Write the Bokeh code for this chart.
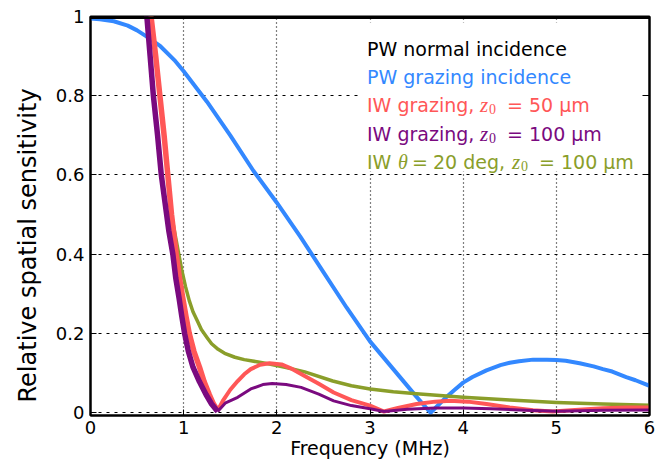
from bokeh.plotting import figure
from bokeh.models import Range1d, FixedTicker, LinearAxis, Label, BoxAnnotation, Title
from bokeh.embed import file_html
from bokeh.resources import INLINE

# ---------------- data ----------------
x_ticks = [0, 1, 2, 3, 4, 5, 6]
x_tick_labels = ["0", "1", "2", "3", "4", "5", "6"]
y_ticks = [0, 0.2, 0.4, 0.6, 0.8, 1.0]
y_tick_labels = ["0", "0.2", "0.4", "0.6", "0.8", "1"]

x_title = "Frequency (MHz)"
y_title = "Relative spatial sensitivity"

# PW normal incidence
f_normal = [0, 6]
v_normal = [1.0, 1.0]

# PW grazing incidence
f_grazing = [0, 0.1, 0.25, 0.4, 0.5, 0.6, 0.75, 0.9, 1.0, 1.25, 1.5, 1.75, 2.0, 2.25,
             2.5, 2.75, 3.0, 3.25, 3.5, 3.65, 3.8, 3.9, 4.0, 4.1, 4.25, 4.4, 4.5, 4.6,
             4.75, 4.9, 5.0, 5.1, 5.25, 5.4, 5.5, 5.6, 5.75, 5.85, 6.0]
v_grazing = [0.995, 0.993, 0.988, 0.977, 0.965, 0.95, 0.925, 0.89, 0.862, 0.785, 0.70,
             0.61, 0.53, 0.445, 0.355, 0.265, 0.18, 0.11, 0.04, 0.0, 0.035, 0.056,
             0.076, 0.09, 0.107, 0.12, 0.126, 0.130, 0.134, 0.134, 0.133, 0.131,
             0.125, 0.117, 0.11, 0.104, 0.09, 0.082, 0.068]

# IW grazing, z0 = 50 um
f_iw50 = [0.60, 0.65, 0.70, 0.745, 0.79, 0.83, 0.87, 0.92, 0.955, 0.99, 1.025, 1.06,
          1.11, 1.17, 1.22, 1.275, 1.32, 1.365,
          1.42, 1.5, 1.58, 1.65, 1.72, 1.82, 1.92, 2.05, 2.15, 2.26, 2.45, 2.61, 2.8,
          3.0, 3.15, 3.3, 3.5, 3.7, 3.86, 4.05, 4.25, 4.5, 4.75, 4.96, 5.2, 5.5,
          5.75, 6.0]
v_iw50 = [1.12, 1.0, 0.9, 0.8, 0.7, 0.6, 0.5, 0.4, 0.34, 0.29, 0.243, 0.2,
          0.155, 0.115, 0.078, 0.046, 0.022, 0.005,
          0.03, 0.058, 0.08, 0.097, 0.11, 0.121, 0.125, 0.122, 0.112, 0.098, 0.073,
          0.051, 0.032, 0.018, 0.003, 0.012, 0.022, 0.028, 0.03, 0.028, 0.022,
          0.013, 0.006, 0.003, 0.007, 0.011, 0.013, 0.013]

# IW grazing, z0 = 100 um
f_iw100 = [0.57, 0.605, 0.64, 0.675, 0.72, 0.76, 0.80, 0.84, 0.884, 0.915, 0.95,
           0.98, 1.01, 1.05, 1.10, 1.17, 1.24, 1.3, 1.365,
           1.45, 1.58, 1.72, 1.85, 1.95, 2.1, 2.26, 2.45, 2.61, 2.8, 3.0, 3.15,
           3.4, 3.7, 4.0, 4.3, 4.6, 5.0, 5.5, 6.0]
v_iw100 = [1.12, 1.0, 0.9, 0.8, 0.7, 0.6, 0.53, 0.46, 0.4, 0.34, 0.29,
           0.243, 0.2, 0.155, 0.115, 0.078, 0.046, 0.022, 0.003,
           0.025, 0.039, 0.06, 0.071, 0.074, 0.071, 0.064, 0.047, 0.03, 0.018,
           0.01, 0.003, 0.009, 0.012, 0.012, 0.01, 0.007, 0.004, 0.006, 0.007]

# IW theta = 20 deg, z0 = 100 um
f_iw20 = [0.60, 0.65, 0.70, 0.745, 0.79, 0.83, 0.87, 0.90, 0.94, 0.98, 1.02, 1.06,
          1.10, 1.15, 1.19, 1.25, 1.30, 1.37, 1.44, 1.55, 1.65, 1.8, 1.92, 2.1, 2.3,
          2.6, 2.8, 3.0, 3.25, 3.5, 4.0, 4.5, 5.0, 5.5, 6.0]
v_iw20 = [1.12, 1.0, 0.9, 0.8, 0.7, 0.6, 0.5, 0.46, 0.41, 0.36, 0.318, 0.283,
          0.255, 0.23, 0.21, 0.19, 0.174, 0.16, 0.15, 0.14, 0.134, 0.128, 0.123,
          0.114, 0.103, 0.08, 0.068, 0.06, 0.053, 0.048, 0.039, 0.032, 0.026,
          0.022, 0.019]

c_black = "#000000"
c_blue = "#3388FF"
c_red = "#FF5757"
c_purple = "#7A0A7F"
c_olive = "#8A9E2A"

FONT = "DejaVu Sans"
SERIF = "Liberation Serif"

# ---------------- figure ----------------
p = figure(width=660, height=461, output_backend="svg", toolbar_location=None,
           x_range=Range1d(0, 6), y_range=Range1d(-0.007, 1.0),
           min_border_left=89, min_border_right=11, min_border_top=16,
           min_border_bottom=46, x_axis_label=x_title)

p.background_fill_color = "white"
p.border_fill_color = "white"
p.outline_line_color = "black"
p.outline_line_width = 2

for ax in (p.xaxis[0], p.yaxis[0]):
    ax.axis_line_width = 2
    ax.axis_line_color = "black"
    ax.major_tick_in = 6
    ax.major_tick_out = 0
    ax.minor_tick_line_color = None
    ax.major_tick_line_width = 1
    ax.major_label_text_font = FONT
    ax.major_label_text_font_size = "18px"
    ax.major_label_text_color = "black"
    ax.axis_label_text_font = FONT
    ax.axis_label_text_font_style = "normal"
    ax.axis_label_text_color = "black"

p.xaxis.ticker = FixedTicker(ticks=x_ticks)
p.xaxis.major_label_overrides = {t: l for t, l in zip(x_ticks, x_tick_labels)}
p.xaxis.major_label_standoff = 5
p.xaxis.axis_label_standoff = 0
p.xaxis.axis_label_text_font_size = "19px"

p.yaxis.ticker = FixedTicker(ticks=y_ticks)
p.yaxis.major_label_overrides = {t: l for t, l in zip(y_ticks, y_tick_labels)}
p.yaxis.major_label_standoff = 6

right_axis = LinearAxis(ticker=FixedTicker(ticks=y_ticks), major_label_text_color=None,
                        major_tick_in=6, major_tick_out=0, minor_tick_line_color=None,
                        axis_line_width=2, major_label_standoff=0,
                        major_label_overrides={t: "" for t in y_ticks})
p.add_layout(right_axis, "right")

# y-axis title, placed lower than the frame centre as in the reference
p.add_layout(Title(text=y_title, align="left", offset=13, standoff=22,
                   text_font=FONT, text_font_size="24px", text_font_style="normal",
                   text_color="black"), "left")

p.xgrid.ticker = FixedTicker(ticks=x_ticks)
p.ygrid.ticker = FixedTicker(ticks=y_ticks)
p.xgrid.grid_line_color = "black"
p.xgrid.grid_line_dash = "1 3"
p.xgrid.grid_line_width = 1.2
p.ygrid.grid_line_color = "black"
p.ygrid.grid_line_dash = "3 5"
p.ygrid.grid_line_width = 1

# ---------------- curves ----------------
p.line(f_grazing, v_grazing, line_color=c_blue, line_width=4, line_join="round")
p.line(f_iw20, v_iw20, line_color=c_olive, line_width=3.5, line_join="round")
k50 = f_iw50.index(1.365) + 1
p.line(f_iw50[:k50], v_iw50[:k50], line_color=c_red, line_width=5.5, line_join="round")
p.line(f_iw50[k50 - 1:], v_iw50[k50 - 1:], line_color=c_red, line_width=4, line_join="round")
k100 = f_iw100.index(1.365) + 1
p.line(f_iw100[:k100], v_iw100[:k100], line_color=c_purple, line_width=5.5, line_join="round")
p.line(f_iw100[k100 - 1:], v_iw100[k100 - 1:], line_color=c_purple, line_width=3, line_join="round")
p.line(f_normal, v_normal, line_color=c_black, line_width=5)

# ---------------- legend (text only, white box) ----------------
p.add_layout(BoxAnnotation(left=2.88, right=5.91, bottom=0.609, top=0.985,
                           fill_color="white", fill_alpha=1.0, line_color=None))

LX = 2.968
row_y = [0.918 - i * 0.0713 for i in range(5)]


def seg(text, row, dx, color, font=FONT, size="19px", style="normal", dy=0):
    p.add_layout(Label(x=LX, y=row_y[row], x_offset=dx, y_offset=dy, text=text,
                       text_font=font, text_font_size=size, text_font_style=style,
                       text_color=color, text_baseline="alphabetic", text_align="left"))


seg("PW normal incidence", 0, 0, c_black)
seg("PW grazing incidence", 1, 0, c_blue)

for row, col, rest in ((2, c_red, "=  50 μm"), (3, c_purple, "= 100 μm")):
    seg("IW grazing,", row, 0, col)
    seg("z", row, 113, col, font=SERIF, size="21px", style="italic")
    seg("0", row, 122, col, font=SERIF, size="14px", dy=-4)
    seg(rest, row, 140, col)

seg("IW", 4, 0, c_olive)
seg("θ", 4, 31, c_olive, font=SERIF, size="20px", style="italic")
seg("=", 4, 45, c_olive)
seg("20 deg,", 4, 66, c_olive)
seg("z", 4, 145, c_olive, font=SERIF, size="21px", style="italic")
seg("0", 4, 154, c_olive, font=SERIF, size="14px", dy=-4)
seg("= 100 μm", 4, 172, c_olive)

open("out.html", "w").write(file_html(p, INLINE))
